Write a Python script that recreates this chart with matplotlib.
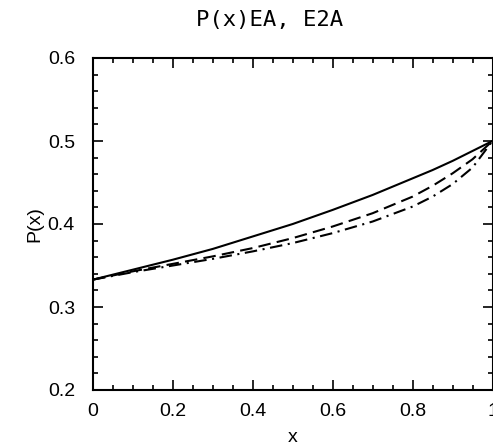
import matplotlib
matplotlib.use('Agg')
import matplotlib.pyplot as plt
from matplotlib.ticker import MultipleLocator

plt.rcParams['font.family'] = ['Liberation Sans', 'DejaVu Sans']
plt.rcParams['lines.scale_dashes'] = False

x = [0, 0.1, 0.2, 0.3, 0.4, 0.5, 0.6, 0.7, 0.8, 0.85, 0.9, 0.95, 1.0]
p_solid = [0.333, 0.345, 0.357, 0.370, 0.385, 0.400, 0.417, 0.435, 0.455, 0.465, 0.476, 0.488, 0.5]
p_dashed = [0.333, 0.343, 0.352, 0.361, 0.371, 0.383, 0.397, 0.413, 0.433, 0.446, 0.461, 0.478, 0.5]
p_dashdot = [0.333, 0.342, 0.350, 0.358, 0.367, 0.377, 0.389, 0.403, 0.421, 0.433, 0.448, 0.468, 0.5]

fig = plt.figure(figsize=(4.93, 4.47), dpi=100)
ax = fig.add_axes([93/493, 1 - 390/447, 399.5/493, 332/447])

ax.plot(x, p_solid, color='black', lw=1.5, linestyle='-')
ax.plot(x, p_dashed, color='black', lw=1.5, linestyle=(0, (9, 4.5)))
ax.plot(x, p_dashdot, color='black', lw=1.5, linestyle=(0, (9, 4, 1.5, 4)))

ax.set_xlim(0, 1)
ax.set_ylim(0.2, 0.6)
ax.xaxis.set_minor_locator(MultipleLocator(0.05))
ax.yaxis.set_minor_locator(MultipleLocator(0.02))
ax.set_xticks([0, 0.2, 0.4, 0.6, 0.8, 1.0])
ax.set_xticklabels(['0', '0.2', '0.4', '0.6', '0.8', '1'])
ax.set_yticks([0.2, 0.3, 0.4, 0.5, 0.6])
ax.set_yticklabels(['0.2', '0.3', '0.4', '0.5', '0.6'])

ax.tick_params(which='both', direction='in', top=True, right=True, width=1.2)
ax.tick_params(which='major', length=7, labelsize=14)
ax.tick_params(axis='x', which='major', pad=9)
ax.tick_params(axis='y', which='major', pad=13)
ax.tick_params(which='minor', length=3.5)
for s in ax.spines.values():
    s.set_linewidth(1.5)

ax.set_xlabel('x', fontsize=14, labelpad=7)
ax.set_ylabel('P(x)', fontsize=14, labelpad=3)

fig.text(270/493, 1 - 20/447, 'P(x)EA, E2A', family='DejaVu Sans Mono',
         fontsize=16, ha='center', va='center')

fig.savefig('out.png', dpi=100)
